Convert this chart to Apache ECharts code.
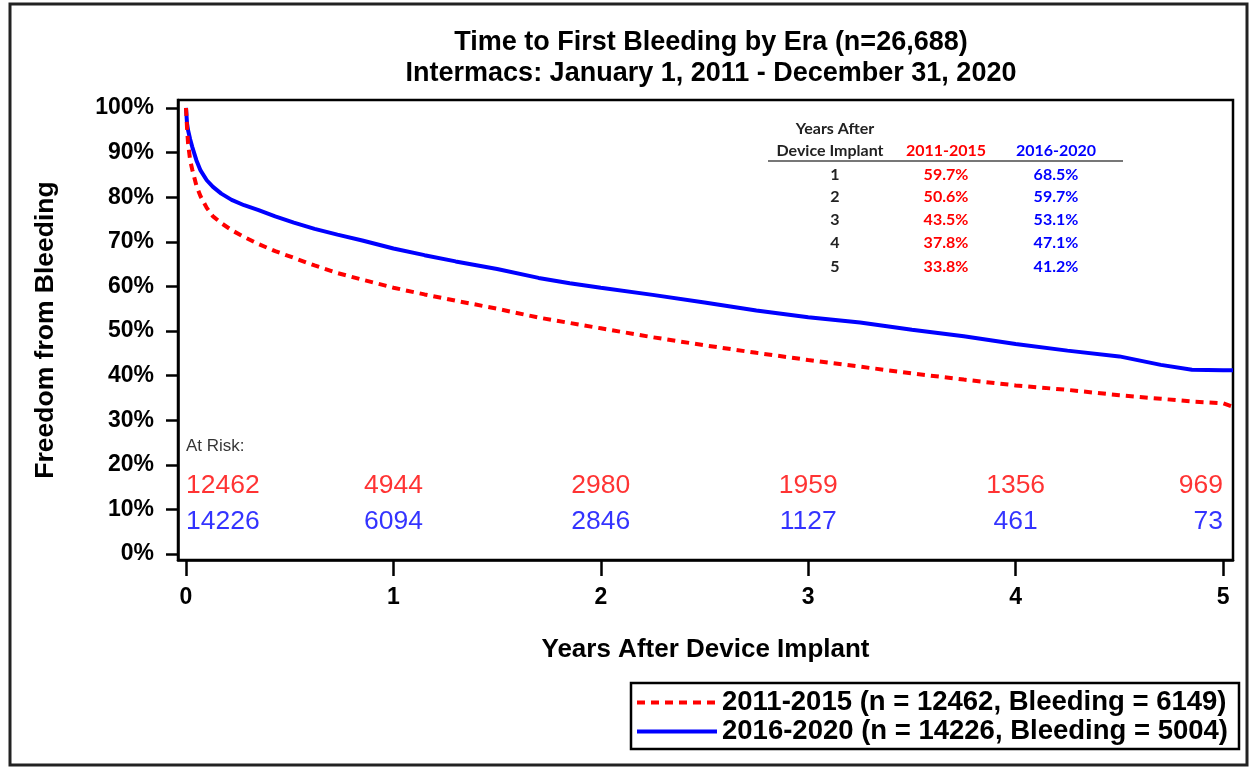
<!DOCTYPE html>
<html>
<head>
<meta charset="utf-8">
<script src="https://cdn.jsdelivr.net/npm/echarts@6/dist/echarts.min.js"></script>
<style>
  html, body { margin: 0; padding: 0; background: #fff; }
  #chart { width: 1252px; height: 769px; }
</style>
</head>
<body>
<div id="chart"></div>
<script>
// ---- Data ----
const timeYears = [0, 0.005, 0.01, 0.02, 0.03, 0.05, 0.07, 0.1, 0.13, 0.17, 0.22, 0.28, 0.35, 0.43, 0.52, 0.62, 0.73, 0.85, 1.0, 1.15, 1.3, 1.5, 1.7, 1.85, 2.0, 2.25, 2.5, 2.75, 3.0, 3.25, 3.5, 3.75, 4.0, 4.25, 4.5, 4.7, 4.85, 5.0, 5.048];
const era2011 = [100, 95.5, 92.0, 88.3, 86.2, 82.6, 80.2, 77.6, 75.7, 74.2, 72.6, 71.1, 69.5, 67.9, 66.4, 64.7, 63.0, 61.5, 59.7, 58.2, 56.8, 55.0, 53.0, 51.8, 50.6, 48.6, 46.8, 45.1, 43.5, 42.0, 40.5, 39.1, 37.8, 36.8, 35.6, 34.8, 34.2, 33.8, 33.0];
const era2016 = [100, 96.5, 95.0, 93.0, 91.3, 88.3, 86.0, 83.8, 82.3, 80.8, 79.4, 78.2, 77.1, 75.7, 74.3, 72.9, 71.6, 70.3, 68.5, 67.0, 65.6, 63.9, 61.9, 60.7, 59.7, 58.1, 56.4, 54.6, 53.1, 51.9, 50.3, 48.8, 47.1, 45.6, 44.3, 42.4, 41.3, 41.2, 41.2];

const seriesNames = ['2011-2015 (n = 12462, Bleeding = 6149)', '2016-2020 (n = 14226, Bleeding = 5004)'];

const xTicks = [0, 1, 2, 3, 4, 5];
const yTicks = [0, 10, 20, 30, 40, 50, 60, 70, 80, 90, 100];

const atRiskYears = [0, 1, 2, 3, 4, 5];
const atRisk2011 = [12462, 4944, 2980, 1959, 1356, 969];
const atRisk2016 = [14226, 6094, 2846, 1127, 461, 73];

const tableYears = ['1', '2', '3', '4', '5'];
const table2011 = ['59.7%', '50.6%', '43.5%', '37.8%', '33.8%'];
const table2016 = ['68.5%', '59.7%', '53.1%', '47.1%', '41.2%'];

// ---- Chart ----
const RED = '#ff0000';
const BLUE = '#0000ff';
const FONT = '"Liberation Sans", Arial, sans-serif';
const TFONT = 'Lato, "Open Sans", sans-serif';

const chart = echarts.init(document.getElementById('chart'), null, { renderer: 'canvas' });

function curve(vals) { return timeYears.map((t, i) => [t, vals[i]]); }

function riskRow(counts, yPos) {
  return atRiskYears.map((t, i) => ({
    value: [t, yPos, counts[i]],
    label: { align: i === 0 ? 'left' : (i === atRiskYears.length - 1 ? 'right' : 'center') }
  }));
}

const graphics = [
  { type: 'rect', shape: { x: 10, y: 4, width: 1237, height: 761 }, style: { fill: 'none', stroke: '#222', lineWidth: 3 }, silent: true }
];
// inset table
const colYear = 835, col2011 = 946, col2016 = 1056;
graphics.push({ type: 'text', style: { text: 'Years After', x: colYear, y: 129, align: 'center', verticalAlign: 'middle', font: 'bold 16px ' + TFONT, fill: '#222' } });
graphics.push({ type: 'text', style: { text: 'Device Implant', x: colYear - 5, y: 151, align: 'center', verticalAlign: 'middle', font: 'bold 16px ' + TFONT, fill: '#222' } });
graphics.push({ type: 'text', style: { text: '2011-2015', x: col2011, y: 151, align: 'center', verticalAlign: 'middle', font: 'bold 16px ' + TFONT, fill: RED } });
graphics.push({ type: 'text', style: { text: '2016-2020', x: col2016, y: 151, align: 'center', verticalAlign: 'middle', font: 'bold 16px ' + TFONT, fill: BLUE } });
graphics.push({ type: 'line', shape: { x1: 768, y1: 161, x2: 1123, y2: 161 }, style: { stroke: '#777', lineWidth: 2 } });
const rowY = [175, 197, 220, 243, 267];
tableYears.forEach((yr, i) => {
  graphics.push({ type: 'text', style: { text: yr, x: colYear, y: rowY[i], align: 'center', verticalAlign: 'middle', font: 'bold 16px ' + TFONT, fill: '#222' } });
  graphics.push({ type: 'text', style: { text: table2011[i], x: col2011, y: rowY[i], align: 'center', verticalAlign: 'middle', font: 'bold 16px ' + TFONT, fill: RED } });
  graphics.push({ type: 'text', style: { text: table2016[i], x: col2016, y: rowY[i], align: 'center', verticalAlign: 'middle', font: 'bold 16px ' + TFONT, fill: BLUE } });
});

const option = {
  backgroundColor: '#fff',
  animation: false,
  title: {
    text: 'Time to First Bleeding by Era (n=26,688)\nIntermacs: January 1, 2011 - December 31, 2020',
    left: 706,
    textAlign: 'center',
    top: 22,
    textStyle: { fontFamily: FONT, fontSize: 27, fontWeight: 'bold', color: '#000', lineHeight: 31 }
  },
  grid: {
    left: 178, top: 100, width: 1055, height: 460,
    show: true, borderColor: '#000', borderWidth: 2.5, backgroundColor: 'transparent'
  },
  legend: {
    data: seriesNames,
    orient: 'vertical',
    left: 631, top: 683,
    padding: [5, 11, 3, 4],
    itemGap: 0,
    itemWidth: 80,
    itemHeight: 14,
    borderColor: '#000',
    borderWidth: 2.5,
    itemStyle: { opacity: 0, color: 'transparent', borderWidth: 0 },
    lineStyle: { width: 4 },
    textStyle: { fontFamily: FONT, fontSize: 27.5, fontWeight: 'bold', color: '#000', lineHeight: 29 }
  },
  xAxis: {
    type: 'value',
    min: -0.0386, max: 5.048,
    axisLine: { onZero: false, lineStyle: { color: '#000', width: 2.5 } },
    axisTick: { customValues: xTicks, length: 16, lineStyle: { color: '#000', width: 2.5 } },
    axisLabel: { customValues: xTicks, fontFamily: FONT, fontSize: 23, fontWeight: 'bold', color: '#000', margin: 26 },
    splitLine: { show: false },
    name: 'Years After Device Implant',
    nameLocation: 'middle',
    nameGap: 77,
    nameTextStyle: { fontFamily: FONT, fontSize: 26, fontWeight: 'bold', color: '#000' }
  },
  yAxis: {
    type: 'value',
    min: -1.345, max: 101.79,
    axisLine: { onZero: false, lineStyle: { color: '#000', width: 2.5 } },
    axisTick: { customValues: yTicks, length: 12, lineStyle: { color: '#000', width: 2.5 } },
    axisLabel: { customValues: yTicks, formatter: v => Math.round(v) + '%', fontFamily: FONT, fontSize: 23, fontWeight: 'bold', color: '#000', margin: 24 },
    splitLine: { show: false },
    name: 'Freedom from Bleeding',
    nameLocation: 'middle',
    nameGap: 119,
    nameRotate: 90,
    nameTextStyle: { fontFamily: FONT, fontSize: 26.5, fontWeight: 'bold', color: '#000' }
  },
  graphic: graphics,
  series: [
    {
      name: seriesNames[0], type: 'line', data: curve(era2011),
      showSymbol: false, symbol: 'none', z: 3,
      lineStyle: { color: RED, width: 4, type: [8, 6] },
      itemStyle: { color: RED }
    },
    {
      name: seriesNames[1], type: 'line', data: curve(era2016),
      showSymbol: false, symbol: 'none', z: 2,
      lineStyle: { color: BLUE, width: 4, type: 'solid' },
      itemStyle: { color: BLUE }
    },
    {
      type: 'scatter', symbolSize: 0, silent: true,
      data: [{ value: [0, 24.2], label: { align: 'left' } }],
      label: { show: true, position: 'inside', formatter: 'At Risk:', fontFamily: FONT, fontSize: 17, color: '#000', verticalAlign: 'middle' }
    },
    {
      type: 'scatter', symbolSize: 0, silent: true,
      data: riskRow(atRisk2011, 15.3),
      label: { show: true, position: 'inside', formatter: p => String(p.value[2]), fontFamily: FONT, fontSize: 26.5, color: RED, verticalAlign: 'middle' }
    },
    {
      type: 'scatter', symbolSize: 0, silent: true,
      data: riskRow(atRisk2016, 7.2),
      label: { show: true, position: 'inside', formatter: p => String(p.value[2]), fontFamily: FONT, fontSize: 26.5, color: BLUE, verticalAlign: 'middle' }
    }
  ]
};
chart.setOption(option);
</script>
</body>
</html>
